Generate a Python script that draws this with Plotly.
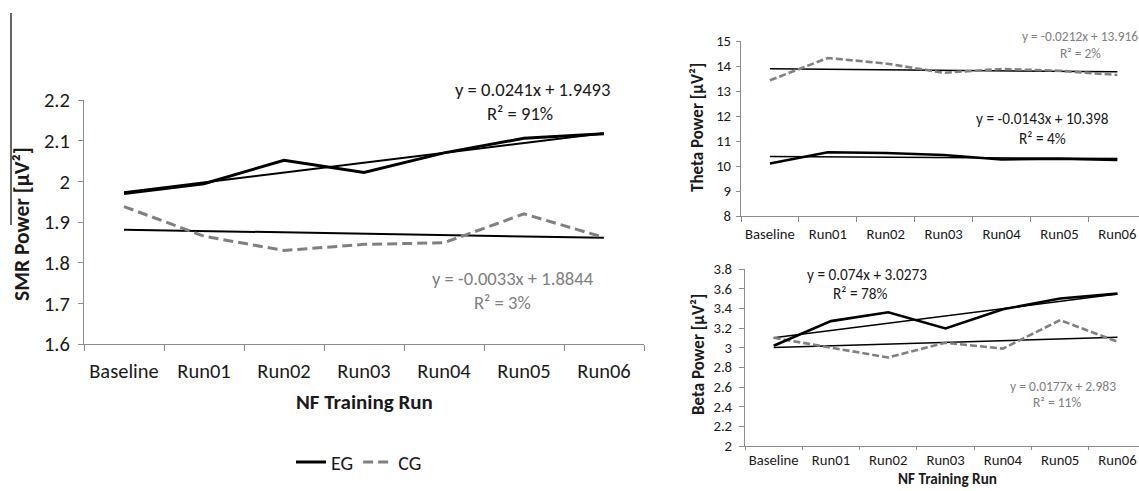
import plotly.graph_objects as go
import numpy as np

W, H = 1139, 491

categories = ["Baseline", "Run01", "Run02", "Run03", "Run04", "Run05", "Run06"]

# SMR power
smr_eg = [1.970, 1.994, 2.052, 2.022, 2.070, 2.106, 2.117]
smr_cg = [1.938, 1.865, 1.830, 1.845, 1.849, 1.920, 1.862]
smr_fit_eg = (0.0241, 1.9493, 91)
smr_fit_cg = (-0.0033, 1.8844, 3)

# Theta power
theta_eg = [10.10, 10.55, 10.52, 10.44, 10.26, 10.29, 10.24]
theta_cg = [13.43, 14.32, 14.10, 13.73, 13.88, 13.81, 13.64]
theta_fit_eg = (-0.0143, 10.398, 4)
theta_fit_cg = (-0.0212, 13.916, 2)

# Beta power
beta_eg = [3.02, 3.27, 3.36, 3.195, 3.39, 3.50, 3.55]
beta_cg = [3.10, 3.00, 2.90, 3.05, 2.99, 3.28, 3.06]
beta_fit_eg = (0.074, 3.0273, 78)
beta_fit_cg = (0.0177, 2.983, 11)

smr_ticks = [1.6, 1.7, 1.8, 1.9, 2.0, 2.1, 2.2]
theta_ticks = [8, 9, 10, 11, 12, 13, 14, 15]
beta_ticks = [2.0, 2.2, 2.4, 2.6, 2.8, 3.0, 3.2, 3.4, 3.6, 3.8]

FONT = "Carlito, Calibri, Lato, sans-serif"
BLACK = "#000000"
GRAY = "#808080"
AXIS = "#8c8c8c"
TXT = "#1a1a1a"


def px(x):
    return x / W


def py(y):
    return 1 - y / H


def trend(fit):
    xs = np.arange(1, len(categories) + 1)
    return list(fit[0] * xs + fit[1])


def fmt_tick(v):
    return ("%.1f" % v).rstrip("0").rstrip(".")


def eqn(fit):
    sign = "+" if fit[1] >= 0 else "-"
    return "y = %sx %s %s" % (("%g" % fit[0]), sign, ("%g" % abs(fit[1])))


fig = go.Figure()

panels = [
    ("x", "y", smr_eg, smr_cg, smr_fit_eg, smr_fit_cg, 3.0, 2.0, "10px,5px", True),
    ("x2", "y2", theta_eg, theta_cg, theta_fit_eg, theta_fit_cg, 2.6, 1.5, "7px,3px", False),
    ("x3", "y3", beta_eg, beta_cg, beta_fit_eg, beta_fit_cg, 2.6, 1.5, "7px,3px", False),
]

for xa, ya, eg, cg, feg, fcg, lw, tw, dash, show in panels:
    fig.add_trace(go.Scatter(x=categories, y=trend(feg), xaxis=xa, yaxis=ya, mode="lines",
                             line=dict(color=BLACK, width=tw), showlegend=False, hoverinfo="skip"))
    fig.add_trace(go.Scatter(x=categories, y=trend(fcg), xaxis=xa, yaxis=ya, mode="lines",
                             line=dict(color=BLACK, width=tw), showlegend=False, hoverinfo="skip"))
    fig.add_trace(go.Scatter(x=categories, y=cg, xaxis=xa, yaxis=ya, mode="lines", name="CG",
                             line=dict(color=GRAY, width=lw, dash=dash), showlegend=show,
                             legendrank=2))
    fig.add_trace(go.Scatter(x=categories, y=eg, xaxis=xa, yaxis=ya, mode="lines", name="EG",
                             line=dict(color=BLACK, width=lw), showlegend=show, legendrank=1))


def xaxis_cfg(x0, x1, rng, size, ticklen, standoff, anchor):
    return dict(domain=[px(x0), px(x1)], type="category", range=rng, tickson="boundaries",
                ticks="outside", ticklen=ticklen, tickcolor=AXIS, tickwidth=1, showline=True,
                linecolor=AXIS, linewidth=1, showgrid=False, zeroline=False, tickangle=0,
                ticklabelstandoff=standoff, anchor=anchor, automargin=False,
                tickfont=dict(family=FONT, size=size, color=TXT))


def yaxis_cfg(y_top, y_bot, rng, ticks, size, ticklen, standoff, anchor):
    return dict(domain=[py(y_bot), py(y_top)], range=rng, tickvals=ticks,
                ticktext=[fmt_tick(t) for t in ticks], ticks="outside", ticklen=ticklen,
                tickcolor=AXIS, tickwidth=1, showline=True, linecolor=AXIS, linewidth=1,
                showgrid=False, zeroline=False, anchor=anchor, automargin=False,
                ticklabelstandoff=standoff,
                tickfont=dict(family=FONT, size=size, color=TXT))


fig.update_layout(
    template="none",
    width=W, height=H, margin=dict(l=0, r=0, t=0, b=0, pad=0, autoexpand=False),
    paper_bgcolor="white", plot_bgcolor="white",
    font=dict(family=FONT, color=TXT),
    xaxis=xaxis_cfg(84, 644, [-0.5, 6.5], 20.5, 6, 8, "y"),
    yaxis=yaxis_cfg(100, 344, [1.6, 2.2], smr_ticks, 20.5, 5, 4, "x"),
    xaxis2=xaxis_cfg(741, 1139, [-0.5, 6.374], 14.7, 5, 4, "y2"),
    yaxis2=yaxis_cfg(41, 216, [8, 15], theta_ticks, 14.7, 4, 2, "x2"),
    xaxis3=xaxis_cfg(745, 1139, [-0.5, 6.376], 14.7, 3, 0, "y3"),
    yaxis3=yaxis_cfg(269, 446, [2, 3.8], beta_ticks, 14.7, 5, 4, "x3"),
    legend=dict(orientation="h", x=px(291), y=py(462), xanchor="left", yanchor="middle",
                font=dict(family=FONT, size=20, color=TXT), bgcolor="rgba(0,0,0,0)",
                borderwidth=0, itemwidth=30, tracegroupgap=0),
    showlegend=True,
)

ann = []


def add_text(text, x, y, size, color=TXT, bold=False, angle=0, yanchor="middle"):
    t = "<b>%s</b>" % text if bold else text
    ann.append(dict(text=t, x=px(x), y=py(y), xref="paper", yref="paper", showarrow=False,
                    xanchor="center", yanchor=yanchor, textangle=angle,
                    font=dict(family=FONT, size=size, color=color)))


# axis titles
add_text("SMR Power [µV²]", 22, 224, 21.5, bold=True, angle=-90)
add_text("NF Training Run", 364, 402, 21, bold=True)
add_text("Theta Power [µV²]", 698, 128, 17, bold=True, angle=-90)
add_text("Beta Power [µV²]", 698, 355, 17, bold=True, angle=-90)
add_text("NF Training Run", 947, 490, 15.2, bold=True, yanchor="bottom")

# trend equations
add_text(eqn(smr_fit_eg), 532, 89, 18.6)
add_text("R² = %d%%" % smr_fit_eg[2], 520, 113, 18.6)
add_text(eqn(smr_fit_cg), 513, 278, 18.6, color=GRAY)
add_text("R² = %d%%" % smr_fit_cg[2], 502, 302, 18.6, color=GRAY)

add_text(eqn(theta_fit_cg), 1080, 37, 13.4, color=GRAY)
add_text("R² = %d%%" % theta_fit_cg[2], 1080, 53, 13.4, color=GRAY)
add_text(eqn(theta_fit_eg), 1042, 119, 15.3)
add_text("R² = %d%%" % theta_fit_eg[2], 1042, 138, 15.3)

add_text(eqn(beta_fit_eg), 867, 274, 15.3)
add_text("R² = %d%%" % beta_fit_eg[2], 860, 293, 15.3)
add_text(eqn(beta_fit_cg), 1063, 386, 13.5, color=GRAY)
add_text("R² = %d%%" % beta_fit_cg[2], 1057, 402, 13.5, color=GRAY)

fig.update_layout(annotations=ann)

# crop-edge line at left of the figure
fig.add_shape(type="line", xref="paper", yref="paper", x0=px(11), x1=px(11), y0=py(13), y1=py(225),
              line=dict(color="#333333", width=1.5))

fig.write_html("out.html", config={"displayModeBar": False},
               post_script="document.body.style.margin='0';document.body.style.overflow='hidden';")
